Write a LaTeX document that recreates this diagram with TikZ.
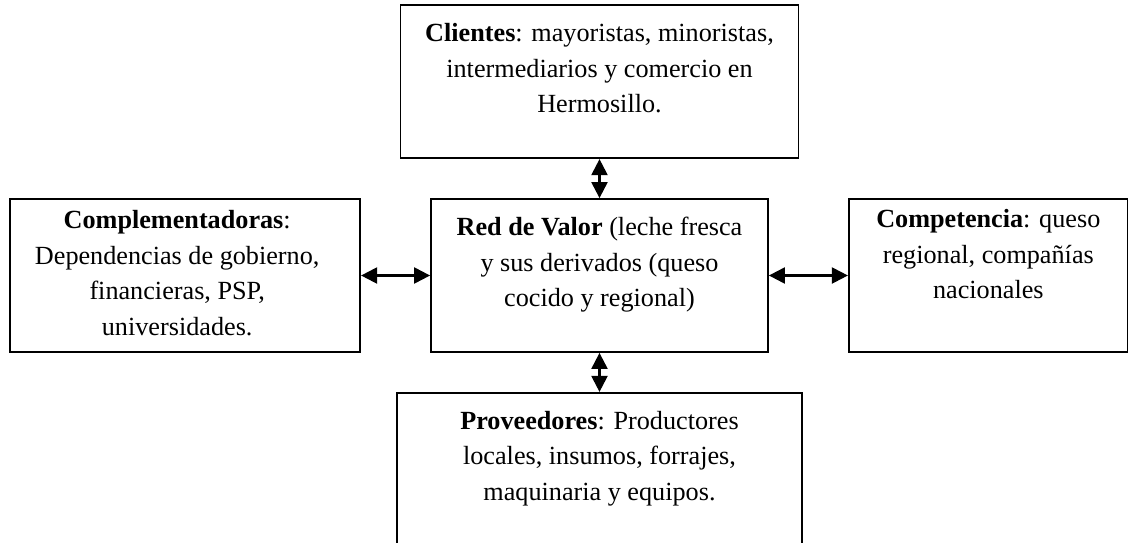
\documentclass[tikz,border=0pt]{standalone}
\usepackage{fontspec}
\setmainfont{Liberation Serif}
\usetikzlibrary{arrows.meta, positioning}

\begin{document}
\begin{tikzpicture}[
  node distance = 19.5pt and 34.5pt,
  caja/.style = {
    draw, line width=0.9pt, minimum height=76.5pt, inner sep=0pt
  },
  txt/.style = {
    align=center, inner sep=0pt, font=\fontsize{13.1}{17.75}\selectfont
  },
  arr/.style = {
    {Triangle[length=8pt,width=8pt]}-{Triangle[length=8pt,width=8pt]},
    line width=1.1pt
  }
]
\useasboundingbox (-299.75pt,-133.25pt) rectangle (264.25pt,137.75pt);

% cajas
\node[caja, minimum width=168.5pt] (red) at (0,0) {};
\node[caja, minimum width=199pt, above=of red] (cli) {};
\node[caja, minimum width=175pt, left=of red] (com) {};
\node[caja, minimum width=139.5pt, right=39.5pt of red] (cmp) {};
\node[caja, minimum width=202.5pt, minimum height=90pt, below=of red] (pro) {};

% textos
\node[txt, below=9.5pt of cli.north] (tcli)
  {\textbf{Clientes}: mayoristas, minoristas,\\intermediarios y comercio en\\Hermosillo.};
\node[txt, below=9.5pt of red.north] (tred)
  {\textbf{Red de Valor} (leche fresca\\y sus derivados (queso\\cocido y regional)};
\node[txt, below=6pt of com.north, xshift=-4pt] (tcom)
  {\textbf{Complementadoras}:\\Dependencias de gobierno,\\financieras, PSP,\\universidades.};
\node[txt, below=5.5pt of cmp.north] (tcmp)
  {\textbf{Competencia}: queso\\regional, compañías\\nacionales};
\node[txt, below=9.5pt of pro.north] (tpro)
  {\textbf{Proveedores}: Productores\\locales, insumos, forrajes,\\maquinaria y equipos.};

% flechas
\draw[arr] (cli) -- (red);
\draw[arr] (com) -- (red);
\draw[arr] (red) -- (cmp);
\draw[arr] (red) -- (pro);

\end{tikzpicture}
\end{document}
